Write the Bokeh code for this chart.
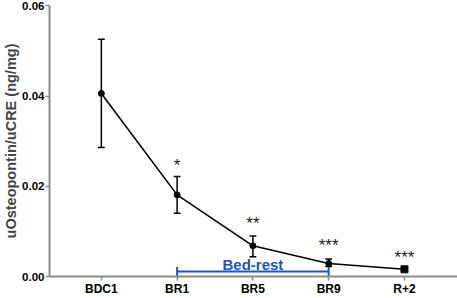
from bokeh.plotting import figure
from bokeh.models import FixedTicker, Range1d, Whisker, ColumnDataSource
from bokeh.core.properties import value
from bokeh.embed import file_html
from bokeh.resources import INLINE

categories = ["BDC1", "BR1", "BR5", "BR9", "R+2"]
means = [0.0406, 0.0181, 0.0068, 0.0029, 0.0016]
upper = [0.0526, 0.0222, 0.0090, 0.0039, 0.0016]
lower = [0.0286, 0.0140, 0.0044, 0.0022, 0.0016]
stars = ["", "*", "**", "***", "***"]
star_y = [0.0, 0.0247, 0.0117, 0.0068, 0.0043]
y_ticks = [0.00, 0.02, 0.04, 0.06]
bracket_label = "Bed-rest"
bracket_start, bracket_end = 1, 3
bracket_y = 0.0011
bracket_tick_top = 0.0021
bracket_text_y = 0.0027

FONT = "Liberation Sans"
GREY = "#8c8c8c"
BLUE = "#1a56c4"

xs = list(range(len(categories)))

p = figure(width=457, height=298, output_backend="svg", toolbar_location=None,
           x_range=Range1d(-0.684, 4.70), y_range=Range1d(0, 0.0601),
           min_border_left=48, min_border_right=0, min_border_top=5, min_border_bottom=0)
p.outline_line_color = None
p.grid.visible = False
p.background_fill_color = "white"
p.border_fill_color = "white"

for ax in (p.xaxis[0], p.yaxis[0]):
    ax.axis_line_color = GREY
    ax.axis_line_width = 2
    ax.major_tick_line_color = GREY
    ax.major_tick_line_width = 1.5
    ax.major_tick_out = 4
    ax.major_tick_in = 0
    ax.minor_tick_line_color = None
    ax.major_label_text_font = FONT
    ax.major_label_text_font_style = "bold"
    ax.major_label_text_color = "black"

p.xaxis.ticker = FixedTicker(ticks=xs)
p.xaxis.major_label_overrides = {i: c for i, c in enumerate(categories)}
p.xaxis.major_label_text_font_size = "12px"
p.xaxis.major_label_text_line_height = 1.0
p.xaxis.major_label_standoff = 1

p.yaxis.ticker = FixedTicker(ticks=y_ticks)
p.yaxis.major_label_overrides = {t: f"{t:.2f}" for t in y_ticks}
p.yaxis.major_label_text_font_size = "11.5px"
p.yaxis.major_label_standoff = 1
p.yaxis.axis_label = "uOsteopontin/uCRE (ng/mg)"
p.yaxis.axis_label_text_font = FONT
p.yaxis.axis_label_text_font_style = "bold"
p.yaxis.axis_label_text_font_size = "14.5px"
p.yaxis.axis_label_text_line_height = 1.0
p.yaxis.axis_label_standoff = 0

src = ColumnDataSource(dict(x=xs, m=means, up=upper, lo=lower))

# bed-rest bracket
p.segment(x0=[bracket_start], y0=[bracket_y], x1=[bracket_end], y1=[bracket_y],
          line_color=BLUE, line_width=2)
p.segment(x0=[bracket_start, bracket_end], y0=[0, 0],
          x1=[bracket_start, bracket_end], y1=[bracket_tick_top, bracket_tick_top],
          line_color=BLUE, line_width=2)
p.text(x=[(bracket_start + bracket_end) / 2], y=[bracket_text_y], text=[bracket_label],
       text_font=value(FONT), text_font_style="bold", text_font_size="15px",
       text_color=BLUE, text_align="center", text_baseline="middle")

# error bars
p.add_layout(Whisker(source=src, base="x", upper="up", lower="lo",
                     line_color="black", line_width=1.5,
                     upper_head=None, lower_head=None))
p.segment(x0=[x - 0.045 for x in xs], y0=upper, x1=[x + 0.045 for x in xs], y1=upper,
          line_color="black", line_width=1.5)
p.segment(x0=[x - 0.045 for x in xs], y0=lower, x1=[x + 0.045 for x in xs], y1=lower,
          line_color="black", line_width=1.5)

p.line(xs, means, line_color="black", line_width=1.6)
p.scatter(xs[:-1], means[:-1], marker="circle", size=6, color="black")
p.scatter(xs[-1:], means[-1:], marker="square", size=7, color="black")

p.text(x=xs, y=star_y, text=stars, text_font=value(FONT), text_font_size="17px",
       text_color="#222222", text_align="center", text_baseline="middle")

open("out.html", "w").write(file_html(p, INLINE))
